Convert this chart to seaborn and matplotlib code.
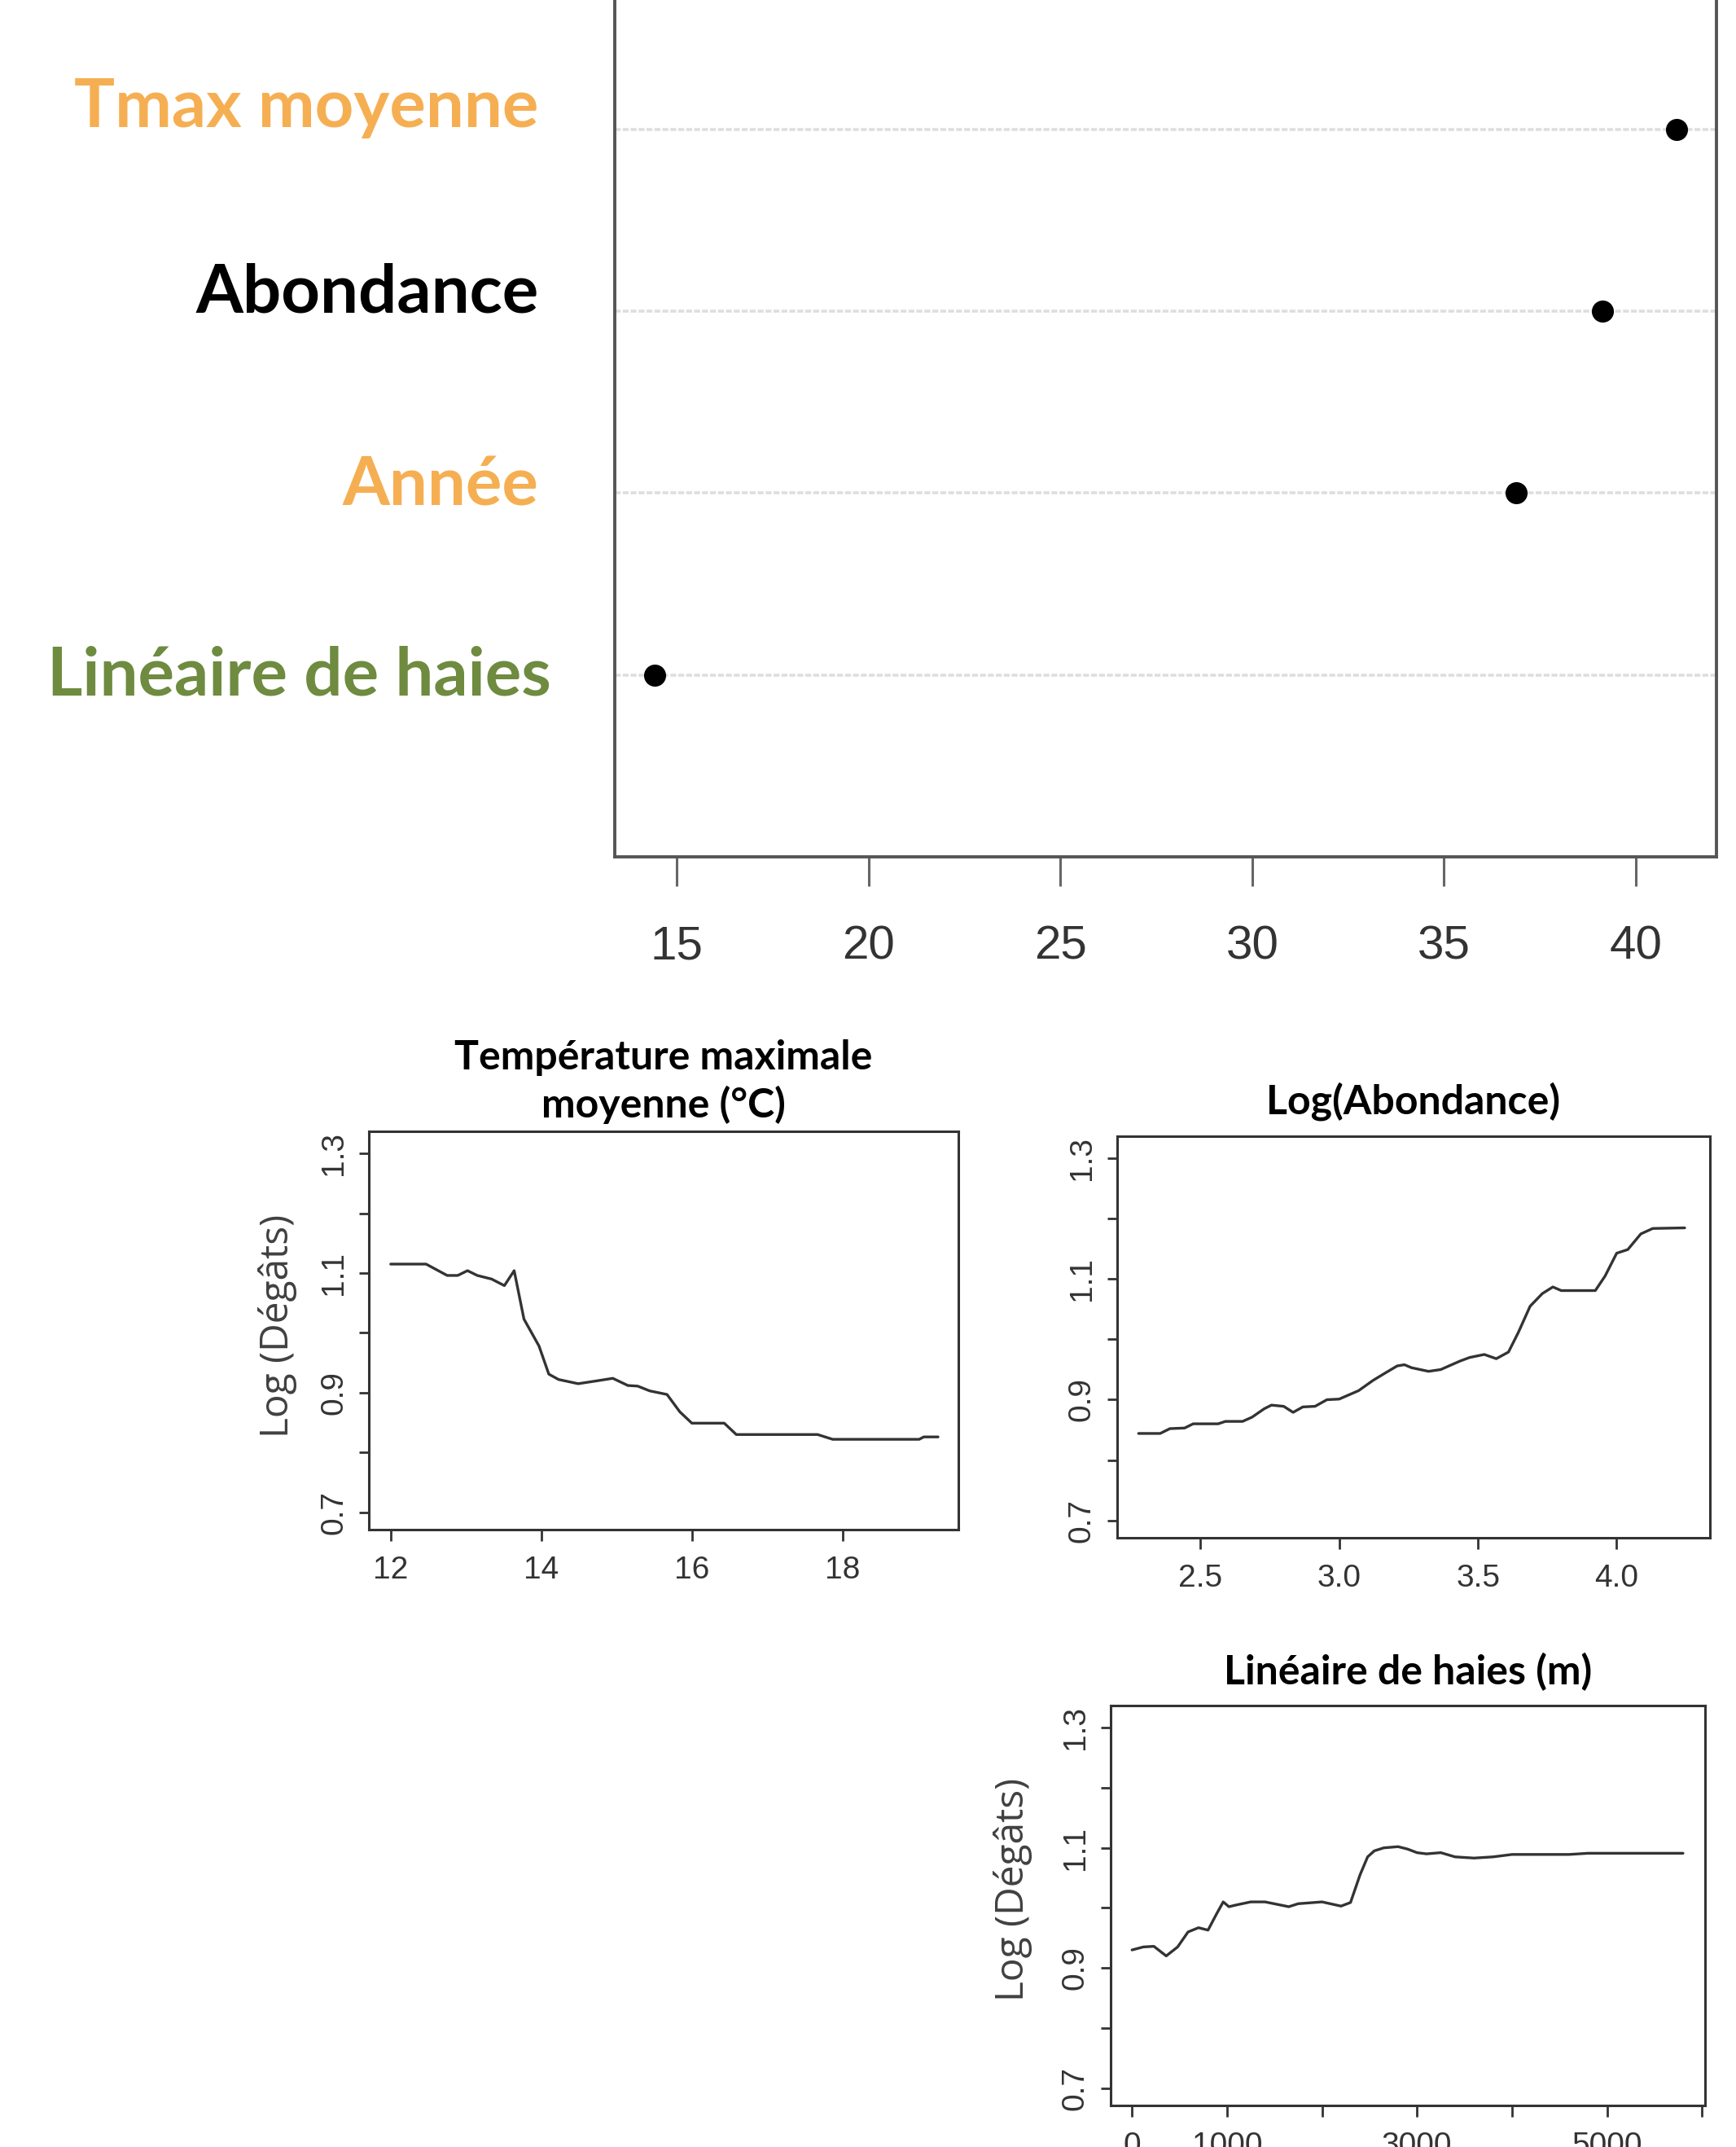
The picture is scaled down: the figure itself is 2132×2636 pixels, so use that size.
import matplotlib
matplotlib.use("Agg")
import matplotlib.pyplot as plt
import numpy as np
import pandas as pd
import seaborn as sns

# --- importance dot chart ---
var_labels = ["Linéaire de haies", "Année", "Abondance", "Tmax moyenne"]
var_importance = [14.44, 36.88, 39.13, 41.06]
var_colors = ["#6E8B3F", "#F5AF52", "#000000", "#F5AF52"]
imp_ticks = [15, 20, 25, 30, 35, 40]

# --- partial dependence: Tmax ---
tmax_x = [12.0, 12.47, 12.75, 12.89, 13.02, 13.15, 13.34, 13.51, 13.64, 13.77, 13.97,
          14.1, 14.23, 14.49, 14.75, 14.95, 15.15, 15.28, 15.44, 15.67, 15.84, 16.0,
          16.43, 16.59, 17.67, 17.87, 19.02, 19.08, 19.27]
tmax_y = [1.115, 1.115, 1.096, 1.096, 1.104, 1.096, 1.09, 1.079, 1.104, 1.023, 0.978,
          0.931, 0.922, 0.915, 0.920, 0.924, 0.912, 0.911, 0.903, 0.897, 0.868, 0.849,
          0.849, 0.830, 0.830, 0.822, 0.822, 0.826, 0.826]
tmax_ticks = [12, 14, 16, 18]

# --- partial dependence: log abundance ---
abond_x = [2.277, 2.355, 2.39, 2.443, 2.474, 2.564, 2.59, 2.652, 2.686, 2.73, 2.756,
           2.80, 2.834, 2.869, 2.913, 2.956, 3.0, 3.07, 3.122, 3.165, 3.209, 3.235,
           3.261, 3.322, 3.366, 3.435, 3.47, 3.523, 3.566, 3.61, 3.645, 3.688, 3.732,
           3.77, 3.80, 3.923, 3.958, 4.0, 4.04, 4.087, 4.13, 4.245]
abond_y = [0.844, 0.844, 0.852, 0.853, 0.860, 0.860, 0.864, 0.864, 0.871, 0.885, 0.891,
           0.889, 0.879, 0.888, 0.889, 0.900, 0.901, 0.915, 0.932, 0.944, 0.956, 0.958,
           0.953, 0.947, 0.950, 0.964, 0.970, 0.975, 0.968, 0.979, 1.011, 1.055, 1.076,
           1.087, 1.081, 1.081, 1.105, 1.143, 1.149, 1.175, 1.184, 1.185]
abond_ticks = [2.5, 3.0, 3.5, 4.0]

# --- partial dependence: hedge length ---
haies_x = [0, 120, 230, 360, 480, 590, 700, 800, 890, 960, 1020, 1100, 1250, 1400,
           1650, 1750, 2000, 2200, 2300, 2400, 2480, 2550, 2650, 2800, 2900, 3000,
           3100, 3250, 3400, 3600, 3800, 4000, 4600, 4800, 5300, 5800]
haies_y = [0.930, 0.935, 0.936, 0.920, 0.935, 0.960, 0.967, 0.963, 0.990, 1.010,
           1.002, 1.005, 1.010, 1.010, 1.002, 1.007, 1.010, 1.003, 1.009, 1.055,
           1.085, 1.095, 1.100, 1.102, 1.098, 1.092, 1.090, 1.092, 1.085, 1.083,
           1.085, 1.089, 1.089, 1.091, 1.091, 1.091]
haies_ticks = [0, 1000, 2000, 3000, 4000, 5000, 6000]
haies_labels = ["0", "1000", "", "3000", "", "5000", ""]

dep_yticks = [0.7, 0.8, 0.9, 1.0, 1.1, 1.2, 1.3]
dep_ylabels = ["0.7", "", "0.9", "", "1.1", "", "1.3"]

sns.set_theme(style="white")
plt.rcParams["font.family"] = ["Liberation Sans Narrow", "Liberation Sans", "DejaVu Sans"]

W, H = 2132, 2636
fig = plt.figure(figsize=(W / 100, H / 100), dpi=100)


def box(px_left, px_top, px_right, px_bottom):
    return [px_left / W, 1 - px_bottom / H, (px_right - px_left) / W, (px_bottom - px_top) / H]


title_font = dict(family=["Lato", "DejaVu Sans"], fontweight="bold", color="black")
label_font = dict(family=["Open Sans", "DejaVu Sans"], color="#404040")

# ---------------- top: variable importance ----------------
ax = fig.add_axes(box(755, 0, 2108, 1052))
imp = pd.DataFrame({"var": var_labels, "imp": var_importance, "row": np.arange(1, 5)})
for r in imp["row"]:
    ax.axhline(r, color="#dedede", lw=2.6, ls=(0, (2, 0.7)), zorder=1)
sns.scatterplot(data=imp, x="imp", y="row", ax=ax, color="black", s=380,
                edgecolor="black", linewidth=0, zorder=3, legend=False)
ax.set_xlim(13.39, 42.1)
ax.set_ylim(0, 4.71)
ax.set_xticks(imp_ticks)
ax.set_yticks([])
ax.set_xlabel("")
ax.set_ylabel("")
ax.tick_params(axis="x", length=26, width=2.2, color="#666666", pad=34,
               labelsize=42, labelcolor="#333333", bottom=True)
for side in ["left", "bottom", "right"]:
    ax.spines[side].set_color("#555555")
    ax.spines[side].set_linewidth(2.8)
ax.spines["top"].set_visible(False)

label_offsets = [-25, -15, -2, 3]   # px, baseline relative to row line
label_right = [-0.058, -0.069, -0.069, -0.069]
for lab, col, row, off, xr in zip(var_labels, var_colors, imp["row"], label_offsets, label_right):
    ax.annotate(lab, xy=(xr, row), xycoords=("axes fraction", "data"),
                xytext=(0, off * 0.72), textcoords="offset points",
                ha="right", va="baseline", fontsize=60, color=col,
                family=["Lato", "DejaVu Sans"], fontweight="bold")


# ---------------- bottom: partial dependence ----------------
def dep_panel(rect, xs, ys, xlim, xticks, xlabels, title, pad, ylabel_pos=None):
    a = fig.add_axes(rect)
    df = pd.DataFrame({"x": xs, "y": ys})
    sns.lineplot(data=df, x="x", y="y", ax=a, color="#333333", lw=2.4,
                 estimator=None, sort=False)
    a.set_xlim(*xlim)
    a.set_ylim(0.671, 1.337)
    a.set_xticks(xticks)
    a.set_xticklabels(xlabels)
    a.set_yticks(dep_yticks)
    a.set_yticklabels(dep_ylabels)
    a.set_xlabel("")
    a.set_ylabel("")
    a.tick_params(axis="x", length=10, width=2, color="#333333", pad=13,
                  labelsize=28, labelcolor="#333333", bottom=True)
    a.tick_params(axis="y", length=9, width=2, color="#333333", pad=9,
                  labelsize=28, labelcolor="#333333", labelrotation=90, left=True)
    for lab in a.get_yticklabels():
        lab.set_va("center")
    for side in a.spines.values():
        side.set_color("#333333")
        side.set_linewidth(2.2)
    a.set_title(title, fontsize=36, pad=pad, linespacing=1.32, **title_font)
    if ylabel_pos is not None:
        a.text(ylabel_pos[0], ylabel_pos[1], "Log (Dégâts)", transform=a.transAxes,
               rotation=90, ha="center", va="center", fontsize=34.5, **label_font)
    return a


dep_panel(box(453, 1389, 1177, 1878), tmax_x, tmax_y, (11.71, 19.54), tmax_ticks,
          [str(t) for t in tmax_ticks], "Température maximale\nmoyenne (°C)", 12,
          ylabel_pos=(-0.155, 0.511))
dep_panel(box(1372, 1395, 2100, 1888), abond_x, abond_y, (2.2, 4.336), abond_ticks,
          [f"{t:.1f}" for t in abond_ticks], "Log(Abondance)", 20)
dep_panel(box(1364, 2094, 2094, 2585), haies_x, haies_y, (-225, 6032), haies_ticks,
          haies_labels, "Linéaire de haies (m)", 19, ylabel_pos=(-0.164, 0.54))

fig.savefig("out.png", dpi=100, facecolor="white")
